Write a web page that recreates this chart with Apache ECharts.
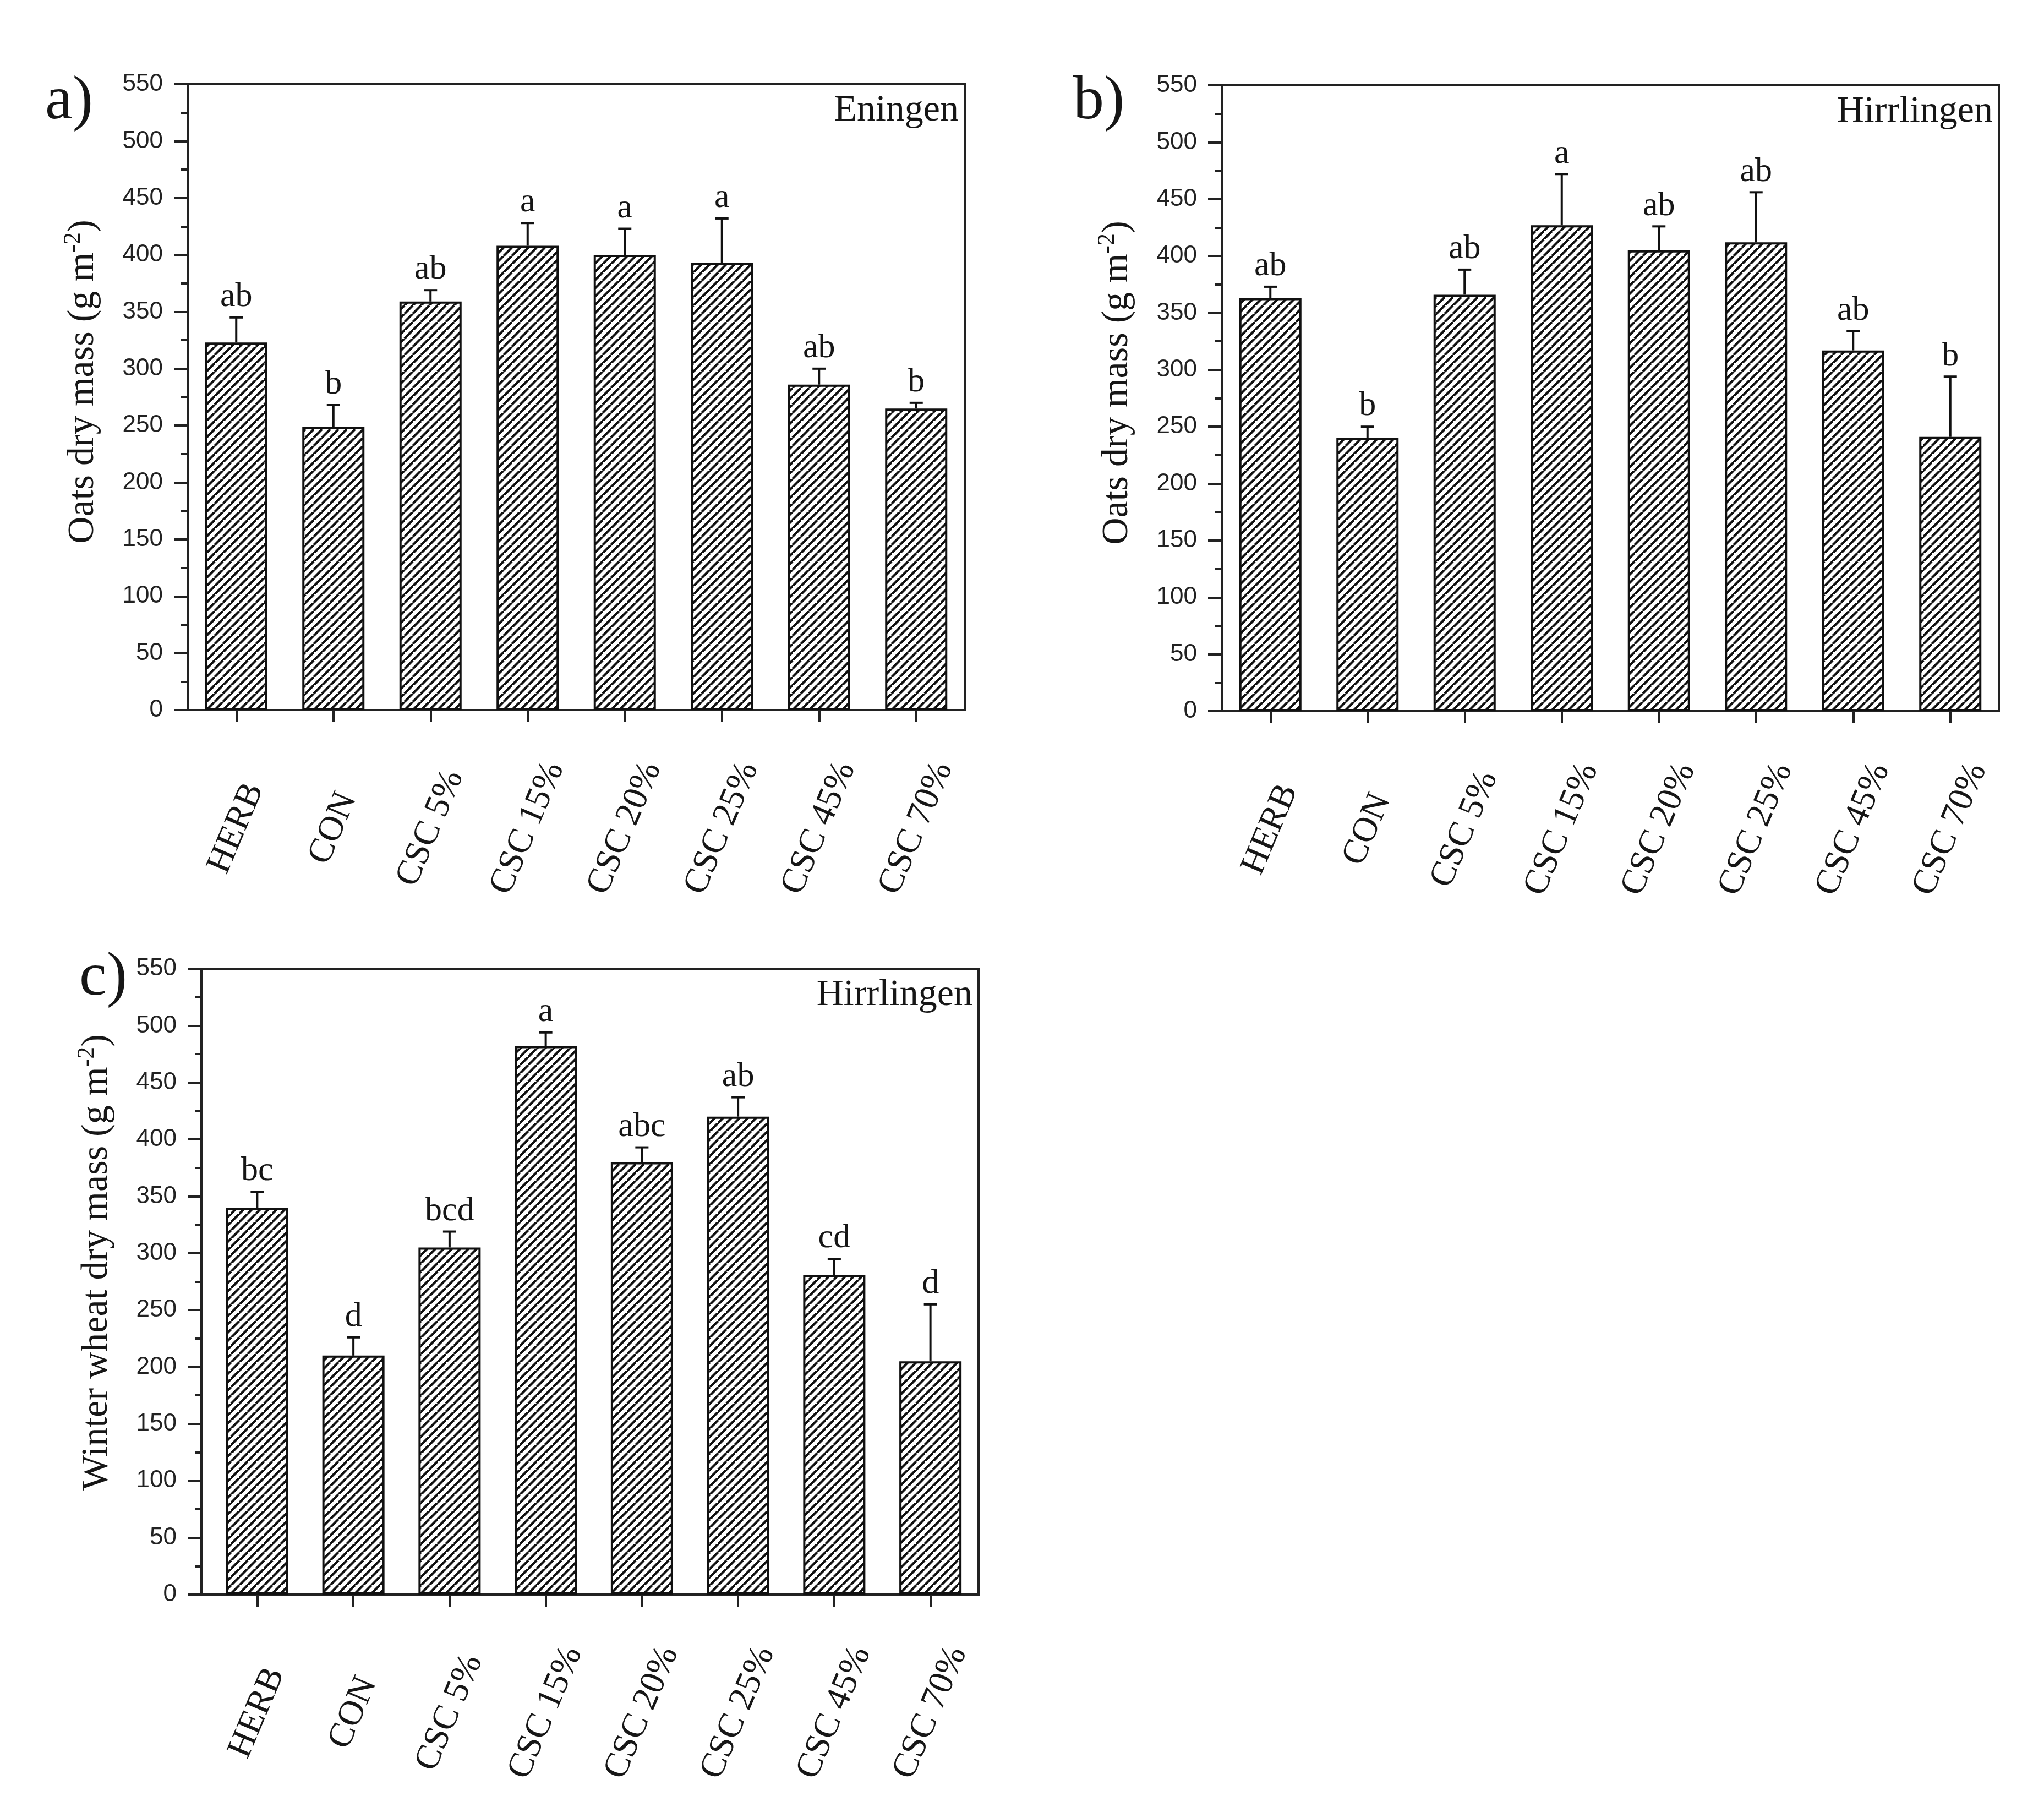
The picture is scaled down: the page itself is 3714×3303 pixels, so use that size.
<!DOCTYPE html>
<html>
<head>
<meta charset="utf-8">
<script src="https://cdn.jsdelivr.net/npm/echarts@6/dist/echarts.min.js"></script>
<style>
html,body{margin:0;padding:0;background:#fff;}
#chart{width:3714px;height:3303px;}
</style>
</head>
<body>
<div id="chart"></div>
<script>
// ---- data ----
const categories = ['HERB', 'CON', 'CSC 5%', 'CSC 15%', 'CSC 20%', 'CSC 25%', 'CSC 45%', 'CSC 70%'];

const oatsEningen = [323, 249, 359, 408, 400, 393, 286, 265];
const oatsEningenErr = [22, 19, 10, 20, 23, 39, 14, 5];
const oatsEningenLetters = ['ab', 'b', 'ab', 'a', 'a', 'a', 'ab', 'b'];

const oatsHirrlingen = [363, 240, 366, 427, 405, 412, 317, 241];
const oatsHirrlingenErr = [10, 10, 22, 45, 21, 44, 17, 53];
const oatsHirrlingenLetters = ['ab', 'b', 'ab', 'a', 'ab', 'ab', 'ab', 'b'];

const wheatHirrlingen = [340, 210, 305, 482, 380, 420, 281, 205];
const wheatHirrlingenErr = [14, 16, 14, 12, 13, 17, 14, 50];
const wheatHirrlingenLetters = ['bc', 'd', 'bcd', 'a', 'abc', 'ab', 'cd', 'd'];

const yMin = 0, yMax = 550, yStep = 50;

const panelLabels = ['a)', 'b)', 'c)'];
const siteNames = ['Eningen', 'Hirrlingen', 'Hirrlingen'];
const yTitles = ['Oats dry mass (g m', 'Oats dry mass (g m', 'Winter wheat dry mass (g m'];

// ---- styling / layout ----
const INK = '#161616';
const LINE = '#222';
const SERIF = '"Liberation Serif", "Times New Roman", serif';
const SANS = '"Liberation Sans", Arial, sans-serif';

function makeHatch() {
  const s = 15;
  const c = document.createElement('canvas');
  c.width = s; c.height = s;
  const ctx = c.getContext('2d');
  ctx.fillStyle = '#fff';
  ctx.fillRect(0, 0, s, s);
  ctx.strokeStyle = '#111';
  ctx.lineWidth = 4.4;
  ctx.beginPath();
  for (let k = -1; k <= 1; k++) {
    ctx.moveTo(k * s, s);
    ctx.lineTo(k * s + s, 0);
  }
  ctx.stroke();
  return c;
}
const hatch = makeHatch();

// plot frames (axis box) and the category band inside each frame
const frames = [
  { x: 341, y: 153, w: 1412, h: 1137 },
  { x: 2220, y: 155, w: 1412, h: 1137 },
  { x: 366, y: 1760, w: 1412, h: 1137 }
];
const bandInset = [0, 0, 14]; // extra left padding before first category (panel c)
const grids = frames.map((f, i) => ({
  left: f.x + bandInset[i], top: f.y, width: f.w - bandInset[i], height: f.h
}));

const panels = [
  { values: oatsEningen, err: oatsEningenErr, letters: oatsEningenLetters },
  { values: oatsHirrlingen, err: oatsHirrlingenErr, letters: oatsHirrlingenLetters },
  { values: wheatHirrlingen, err: wheatHirrlingenErr, letters: wheatHirrlingenLetters }
];

const option = {
  backgroundColor: '#fff',
  animation: false,
  grid: grids.map(g => Object.assign({ show: false, containLabel: false }, g)),
  xAxis: grids.map((g, i) => ({
    type: 'category',
    gridIndex: i,
    data: categories,
    axisLine: { show: true, lineStyle: { color: LINE, width: 4 } },
    axisTick: { show: true, alignWithLabel: true, length: 22, lineStyle: { color: LINE, width: 4 } },
    axisLabel: {
      interval: 0, rotate: 67, align: 'center', verticalAlign: 'middle', margin: 215,
      fontFamily: SERIF, fontSize: 64, color: INK
    },
    splitLine: { show: false }
  })),
  yAxis: grids.map((g, i) => ({
    type: 'value',
    gridIndex: i,
    offset: bandInset[i],
    min: yMin, max: yMax, interval: yStep,
    axisLine: { show: true, lineStyle: { color: LINE, width: 4 } },
    axisTick: { show: true, length: 25, lineStyle: { color: LINE, width: 4 } },
    minorTick: { show: true, splitNumber: 2, length: 12, lineStyle: { color: LINE, width: 4 } },
    splitLine: { show: false },
    minorSplitLine: { show: false },
    axisLabel: { fontFamily: SANS, fontSize: 44, color: '#222', margin: 45 },
    name: '{t|' + yTitles[i] + '}{s|-2}{t|)}',
    nameLocation: 'middle',
    nameGap: 150,
    nameTextStyle: {
      padding: [0, 0, 0, i === 2 ? 70 : 56],
      rich: {
        t: { fontFamily: SERIF, fontSize: 68, color: INK, lineHeight: 80 },
        s: { fontFamily: SERIF, fontSize: 44, color: INK, lineHeight: 50, verticalAlign: 'top' }
      }
    }
  })),
  series: [],
  graphic: []
};

panels.forEach((p, i) => {
  option.series.push({
    type: 'bar',
    xAxisIndex: i, yAxisIndex: i,
    data: p.values,
    barWidth: 113,
    itemStyle: {
      color: { image: hatch, repeat: 'repeat' },
      borderColor: '#111', borderWidth: 4
    },
    z: 2
  });
  option.series.push({
    type: 'custom',
    xAxisIndex: i, yAxisIndex: i,
    z: 3,
    data: p.values.map((v, k) => [k, v, p.err[k]]),
    encode: { x: 0, y: 1 },
    renderItem: function (params, api) {
      const k = api.value(0), v = api.value(1), e = api.value(2);
      const base = api.coord([k, v]);
      const top = api.coord([k, v + e]);
      return {
        type: 'group',
        children: [
          { type: 'line', shape: { x1: base[0], y1: base[1], x2: top[0], y2: top[1] },
            style: { stroke: '#111', lineWidth: 4 } },
          { type: 'line', shape: { x1: top[0] - 12, y1: top[1], x2: top[0] + 12, y2: top[1] },
            style: { stroke: '#111', lineWidth: 4 } },
          { type: 'text', x: top[0], y: top[1] - 6,
            style: { text: p.letters[params.dataIndex], fontFamily: SERIF, fontSize: 62,
                     fill: INK, align: 'center', verticalAlign: 'bottom' } }
        ]
      };
    }
  });
});

// axis boxes, panel letters and site names
const panelPos = [
  { left: 82, top: 130 },
  { left: 1950, top: 130 },
  { left: 144, top: 1722 }
];
frames.forEach((f, i) => {
  option.graphic.push({
    type: 'rect', z: 1, silent: true,
    shape: { x: f.x, y: f.y, width: f.w, height: f.h },
    style: { fill: null, stroke: LINE, lineWidth: 4 }
  });
  option.graphic.push({
    type: 'text', left: panelPos[i].left, top: panelPos[i].top, z: 10,
    style: { text: panelLabels[i], fontFamily: SERIF, fontSize: 112, fill: INK }
  });
  option.graphic.push({
    type: 'text', right: 3714 - (f.x + f.w - 11), top: f.y + 14, z: 10,
    style: { text: siteNames[i], fontFamily: SERIF, fontSize: 68, fill: INK }
  });
});

const chart = echarts.init(document.getElementById('chart'), null, { renderer: 'canvas' });
chart.setOption(option);
</script>
</body>
</html>
